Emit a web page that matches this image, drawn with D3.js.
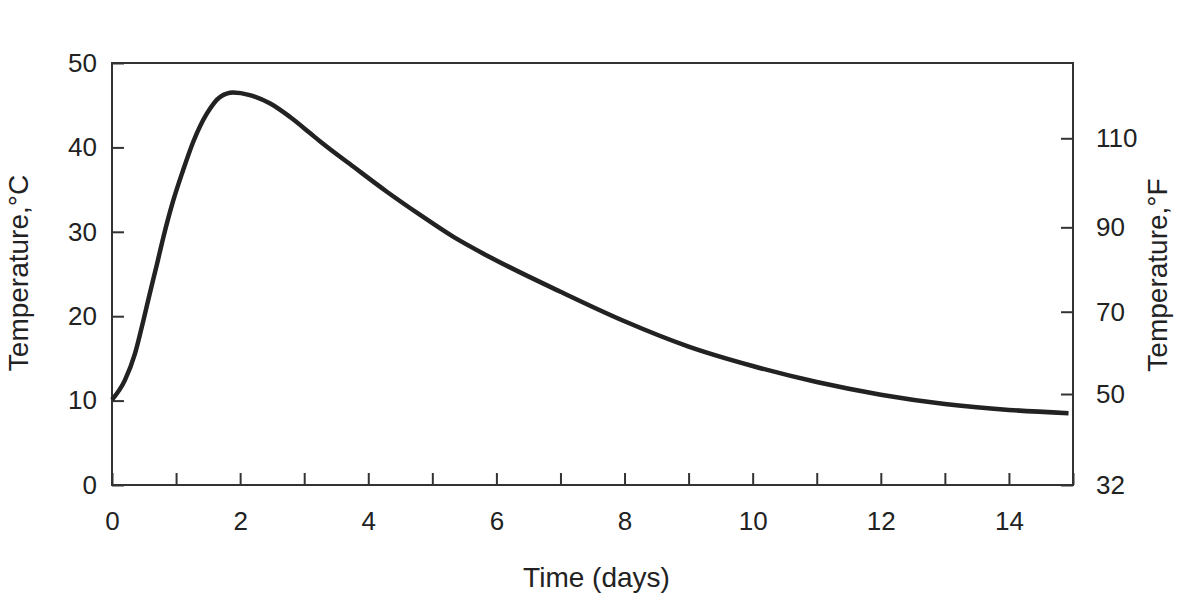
<!DOCTYPE html>
<html>
<head>
<meta charset="utf-8">
<script src="https://cdn.jsdelivr.net/npm/d3@7"></script>
<style>
  html, body { margin: 0; padding: 0; background: #fff; }
  svg text { font-family: "Liberation Sans", Arial, sans-serif; fill: #222; }
</style>
</head>
<body>
<svg id="chart" width="1200" height="608"></svg>
<script>
// curve: time in days, temperature in °C
var days  = [0, 0.2, 0.36, 0.49, 0.59, 0.7, 0.8, 0.96, 1.11, 1.27, 1.48, 1.69, 1.89, 2.15,
             2.47, 2.78, 3.09, 3.25, 3.77, 4.29, 4.81, 5.33, 5.85, 7, 8, 9, 10, 11, 12, 13, 14, 14.93];
var temps = [10.1, 12.4, 15.6, 19.5, 22.7, 26.1, 29.3, 33.8, 37.3, 40.7, 44.0, 46.0, 46.5, 46.2,
             45.2, 43.6, 41.7, 40.7, 37.7, 34.75, 32.0, 29.4, 27.2, 22.9, 19.4, 16.4, 14.1, 12.2, 10.7, 9.6, 8.9, 8.5];

var dayTicks   = d3.range(0, 16);          // small marks every day
var dayLabels  = [0, 2, 4, 6, 8, 10, 12, 14];
var celsTicks  = [0, 10, 20, 30, 40, 50];
// the °F axis in the source is drawn by hand; tick positions given in °C equivalents
var fahrTicks  = [32, 50, 70, 90, 110];
var fahrAsCels = [0, 10.78, 20.53, 30.53, 41.08];

drawChart();

function drawChart() {
  var svg = d3.select('#chart');
  var plotLeft = 112, plotRight = 1073, plotTop = 63, plotBottom = 485;

  var x = d3.scaleLinear().domain([0, 15]).range([plotLeft, plotRight]);
  var y = d3.scaleLinear().domain([0, 50]).range([plotBottom, plotTop]);
  var yF = d3.scaleLinear().domain(fahrTicks).range(fahrAsCels.map(y));

  function styleAxis(g) {
    g.select('.domain').remove();
    g.selectAll('.tick line').attr('stroke', '#333').attr('stroke-width', 2);
    g.selectAll('.tick text').attr('font-size', 26).attr('fill', '#222');
  }

  // bottom axis: ticks every day, labels every second day
  svg.append('g')
    .attr('transform', 'translate(0,' + plotBottom + ')')
    .call(d3.axisBottom(x).tickValues(dayTicks).tickSize(-12).tickSizeOuter(0).tickFormat(''))
    .call(styleAxis);
  svg.append('g')
    .attr('transform', 'translate(0,' + plotBottom + ')')
    .call(d3.axisBottom(x).tickValues(dayLabels).tickSize(0).tickPadding(27).tickFormat(d3.format('d')))
    .call(styleAxis);

  // left axis (°C)
  svg.append('g')
    .attr('transform', 'translate(' + plotLeft + ',0)')
    .call(d3.axisLeft(y).tickValues(celsTicks).tickSize(-12).tickSizeOuter(0).tickPadding(15))
    .call(styleAxis);

  // right axis (°F)
  svg.append('g')
    .attr('transform', 'translate(' + plotRight + ',0)')
    .call(d3.axisRight(yF).tickValues(fahrTicks).tickSize(-12).tickSizeOuter(0).tickPadding(23))
    .call(styleAxis);

  // frame
  svg.append('rect')
    .attr('x', plotLeft).attr('y', plotTop)
    .attr('width', plotRight - plotLeft).attr('height', plotBottom - plotTop)
    .attr('fill', 'none').attr('stroke', '#333').attr('stroke-width', 2);

  // temperature curve
  var line = d3.line()
    .x(function (d, i) { return x(days[i]); })
    .y(function (d) { return y(d); })
    .curve(d3.curveMonotoneX);

  svg.append('path')
    .datum(temps)
    .attr('d', line)
    .attr('fill', 'none')
    .attr('stroke', '#222')
    .attr('stroke-width', 4.5);

  // axis titles
  svg.append('text')
    .attr('x', (plotLeft + plotRight) / 2 + 4).attr('y', 587)
    .attr('text-anchor', 'middle').attr('font-size', 28)
    .text('Time (days)');

  svg.append('text')
    .attr('transform', 'translate(28,273) rotate(-90)')
    .attr('text-anchor', 'middle').attr('font-size', 28)
    .text('Temperature,°C');

  svg.append('text')
    .attr('transform', 'translate(1167,275) rotate(-90)')
    .attr('text-anchor', 'middle').attr('font-size', 28)
    .text('Temperature,°F');
}
</script>
</body>
</html>
